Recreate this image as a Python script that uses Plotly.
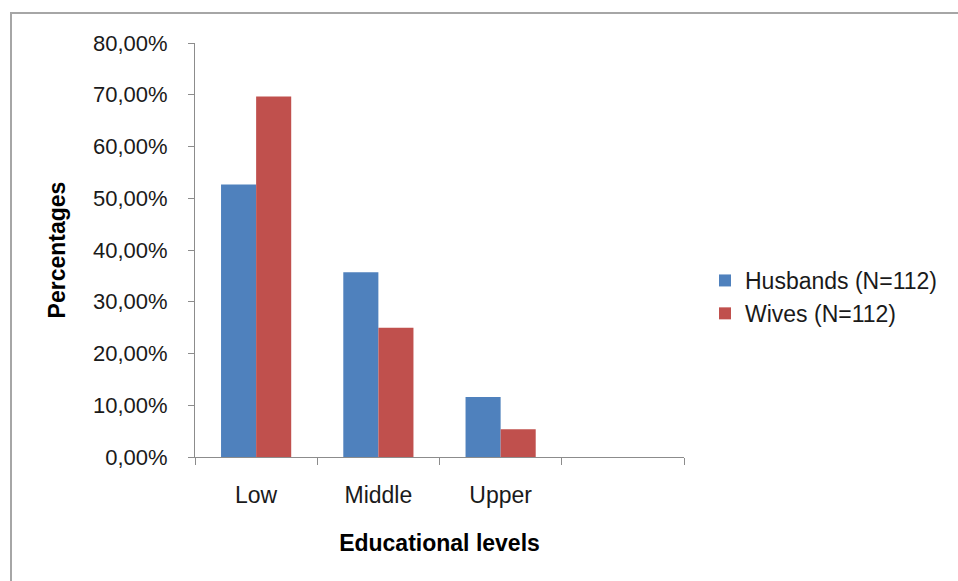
import plotly.graph_objects as go

# Educational levels of husbands and wives (share of each group, N=112)
categories = ["Low", "Middle", "Upper", " "]
husbands = [0.5268, 0.3571, 0.1161]
wives = [0.6964, 0.2500, 0.0536]
series_names = ["Husbands (N=112)", "Wives (N=112)"]
y_ticks = [0.0, 0.1, 0.2, 0.3, 0.4, 0.5, 0.6, 0.7, 0.8]

FONT = "Liberation Sans, Arial, sans-serif"
AXIS_GRAY = "#8c8c8c"
TEXT = "#1a1a1a"

W, H = 958, 581
L, R, T, B = 195, 274, 43, 124

fig = go.Figure()
fig.add_trace(go.Bar(x=categories[:3], y=husbands, name=series_names[0],
                     marker=dict(color="#4F81BD", line=dict(width=0))))
fig.add_trace(go.Bar(x=categories[:3], y=wives, name=series_names[1],
                     marker=dict(color="#C0504D", line=dict(width=0))))

pw, ph = W - L - R, H - T - B


def px_x(p):
    return (p - L) / pw


def px_y(p):
    return (H - B - p) / ph


fig.update_layout(
    width=W, height=H,
    margin=dict(l=L, r=R, t=T, b=B, pad=0),
    paper_bgcolor="white", plot_bgcolor="white",
    separators=",.",
    barmode="group", bargap=0.426, bargroupgap=0,
    font=dict(family=FONT, size=22, color=TEXT),
    showlegend=True,
    legend=dict(x=px_x(705), y=px_y(259), xanchor="left", yanchor="top",
                font=dict(family=FONT, size=23, color=TEXT),
                bgcolor="rgba(0,0,0,0)", tracegroupgap=0, itemsizing="constant"),
    xaxis=dict(
        type="category", categoryorder="array", categoryarray=categories,
        range=[-0.5, 3.5], tickson="boundaries",
        ticks="outside", ticklen=7, tickcolor=AXIS_GRAY, tickwidth=1,
        showline=True, linecolor=AXIS_GRAY, linewidth=1,
        showgrid=False, zeroline=False,
        ticklabelstandoff=17,
        tickfont=dict(family=FONT, size=23, color=TEXT),
        title=dict(text="<b>Educational levels</b>",
                   font=dict(family=FONT, size=23, color="#000"), standoff=28),
    ),
    yaxis=dict(
        range=[0, 0.8], tickvals=y_ticks, tickformat=".2%",
        ticks="outside", ticklen=6, tickcolor=AXIS_GRAY, tickwidth=1,
        showline=True, linecolor=AXIS_GRAY, linewidth=1,
        showgrid=False, zeroline=False,
        ticklabelstandoff=16,
        tickfont=dict(family=FONT, size=22, color=TEXT),
        title=dict(text="<b>Percentages</b>",
                   font=dict(family=FONT, size=23, color="#000"), standoff=20),
    ),
    shapes=[dict(type="rect", xref="paper", yref="paper",
                 x0=px_x(11), x1=px_x(975), y0=px_y(600), y1=px_y(13),
                 line=dict(color="#a6a6a6", width=2), layer="below")],
)

fig.write_html("out.html")
